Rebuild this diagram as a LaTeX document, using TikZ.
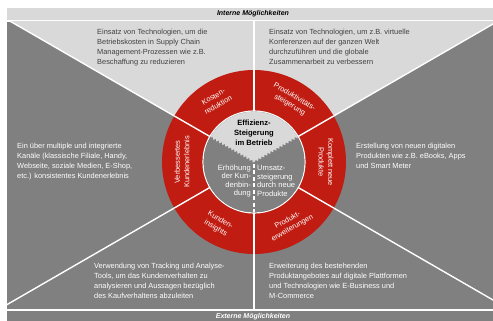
\documentclass[tikz,border=0pt]{standalone}
\usepackage{fontspec}
\setmainfont{Liberation Sans}
\usetikzlibrary{decorations.pathmorphing}

\definecolor{darkgrey}{RGB}{128,128,128}
\definecolor{lightgrey}{RGB}{217,217,217}
\definecolor{ringred}{RGB}{192,28,18}
\definecolor{textgrey}{RGB}{64,64,64}

\begin{document}
\begin{tikzpicture}[x=1pt, y=1pt,
        bar/.style = {inner sep=0, font=\fontsize{7}{8}\selectfont\bfseries\itshape},
        body/.style = {anchor=north west, align=left, inner sep=0, font=\fontsize{7.4}{10}\selectfont},
        seg/.style = {align=center, inner sep=0, text=white, font=\fontsize{7.4}{9.4}\selectfont},
        core/.style = {inner sep=0, font=\fontsize{7.6}{8.6}\selectfont},
        sep/.style = {white, line width=1.4pt}]
    \useasboundingbox (0,0) rectangle (493,321);
    \coordinate (C) at (254,159);

    \fill[lightgrey] (7,301) rectangle (493,313);
    \fill[darkgrey] (7,0) rectangle (493,10);
    \node[bar] (intern) at (253,307) {Interne Möglichkeiten};
    \node[bar, text=white] (extern) at (253,4) {Externe Möglichkeiten};

    \begin{scope}
        \clip (7,12) rectangle (493,299);
        \fill[darkgrey] (7,12) rectangle (493,299);
        \fill[lightgrey] (C) -- +(150:400) -- +(90:400) -- +(30:400) -- cycle;
        \foreach \a in {30,90,...,330}
            \draw[sep] (C) -- +(\a:400);
    \end{scope}

    \fill[ringred, even odd rule] (C) circle[radius=92] (C) circle[radius=51];
    \foreach \a in {30,90,...,330}
        \draw[sep] (C) -- +(\a:92);
    \draw[white, line width=1.2pt] (C) circle[radius=51];
    \fill[darkgrey] (C) circle[radius=50.4];

    \begin{scope}[shift={(C)}]
        \begin{scope}
            \clip (0,0) circle[radius=50.4];
            \fill[lightgrey, decoration={zigzag, segment length=3.5pt, amplitude=1.2pt}]
                (0,0) decorate {-- (150:50.4)} arc[start angle=150, end angle=30, radius=50.4]
                decorate {-- (0,0)} -- cycle;
        \end{scope}
        \draw[white, dash pattern=on 4pt off 2.5pt, line width=1.2pt] (0,-2) -- (270:50.4);

        \node[seg, rotate=30] (kosten) at (122:72) {Kosten-\\reduktion};
        \node[seg, rotate=-30] (produktiv) at (58:72) {Produktivitäts-\\steigerung};
        \node[seg, rotate=-90] (neu) at (0:72) {Komplett neue\\Produkte};
        \node[seg, rotate=30] (erweit) at (-60:72) {Produkt-\\erweiterungen};
        \node[seg, rotate=-30] (insights) at (240:72) {Kunden-\\insights};
        \node[seg, rotate=90] (erlebnis) at (180:72) {Verbessertes\\Kundenerlebnis};

        \node[core, align=center, font=\fontsize{7.6}{10}\selectfont\bfseries] (effizienz) at (0,29) {Effizienz-\\Steigerung\\im Betrieb};
        \node[core, align=right, anchor=east, text=white] (bindung) at (-3,-19) {Erhöhung\\der Kun-\\denbin-\\dung};
        \node[core, align=left, anchor=west, text=white] (umsatz) at (3,-19) {Umsatz-\\steigerung\\durch neue\\Produkte};
    \end{scope}

    \node[body, text=textgrey] (kostentext) at (97,292) {Einsatz von Technologien, um die\\Betriebskosten in Supply Chain\\Management-Prozessen wie z.B.\\Beschaffung zu reduzieren};
    \node[body, text=textgrey] (produktivtext) at (269,292) {Einsatz von Technologien, um z.B. virtuelle\\Konferenzen auf der ganzen Welt\\durchzuführen und die globale\\Zusammenarbeit zu verbessern};
    \node[body, text=white] (erlebnistext) at (17,178) {Ein über multiple und integrierte\\Kanäle (klassische Filiale, Handy,\\Webseite, soziale Medien, E-Shop,\\etc.) konsistentes Kundenerlebnis};
    \node[body, text=white] (neutext) at (356,178) {Erstellung von neuen digitalen\\Produkten wie z.B. eBooks, Apps\\und Smart Meter};
    \node[body, text=white] (insightstext) at (94,58) {Verwendung von Tracking und Analyse-\\Tools, um das Kundenverhalten zu\\analysieren und Aussagen bezüglich\\des Kaufverhaltens abzuleiten};
    \node[body, text=white] (erweittext) at (269,58) {Erweiterung des bestehenden\\Produktangebotes auf digitale Plattformen\\und Technologien wie E-Business und\\M-Commerce};
\end{tikzpicture}
\end{document}
